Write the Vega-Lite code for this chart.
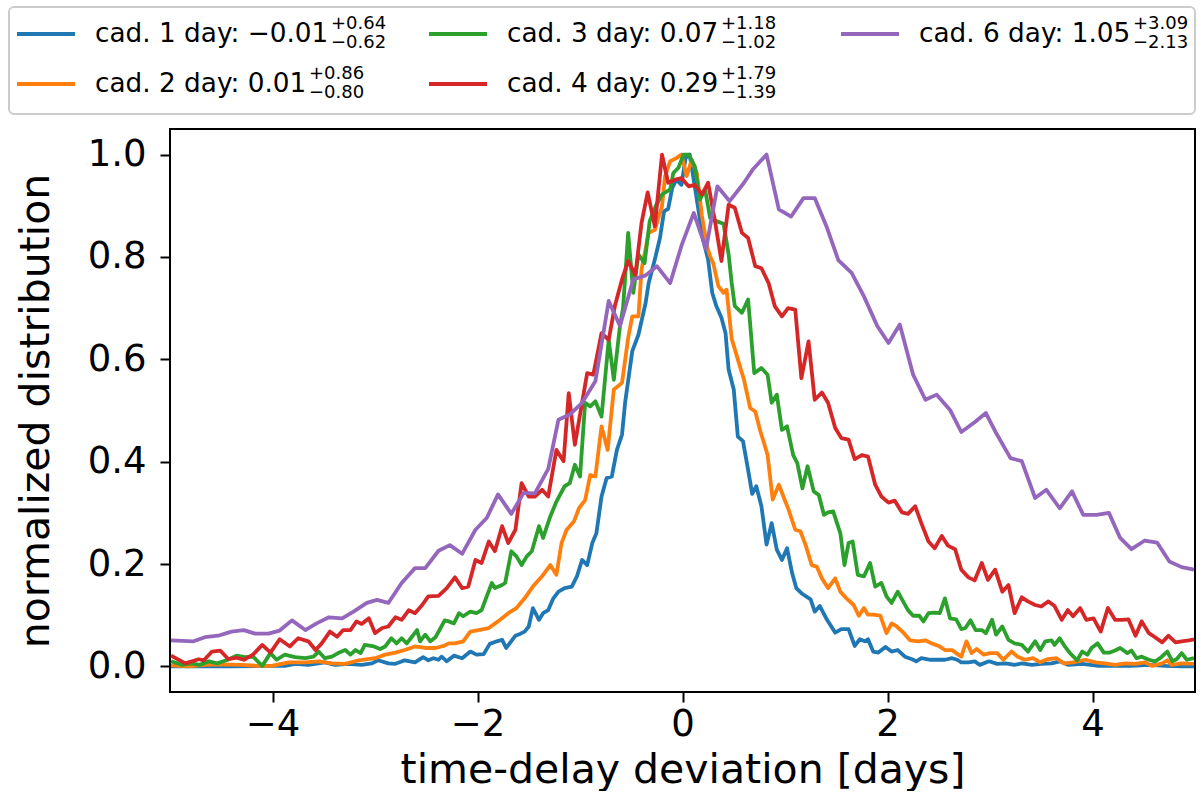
{
  "$schema": "https://vega.github.io/schema/vega-lite/v6.json",
  "padding": {"left": 7, "top": 6, "right": 6, "bottom": 0},
  "autosize": {"type": "pad"},
  "spacing": 13,
  "config": {
    "font": "DejaVu Sans",
    "axis": {"grid": false, "domain": false, "tickColor": "#000", "tickWidth": 2, "tickSize": 10, "labelColor": "#000", "titleColor": "#000", "titleFontWeight": "normal", "labelFont": "DejaVu Sans", "titleFont": "DejaVu Sans"}
  },
  "datasets": {
    "legend": [
      {"s": "cad. 1 day", "col": 0, "row": 1, "lab": "cad. 1 day: −0.01", "sup": "+0.64", "sub": "−0.62"},
      {"s": "cad. 2 day", "col": 0, "row": 2, "lab": "cad. 2 day: 0.01", "sup": "+0.86", "sub": "−0.80"},
      {"s": "cad. 3 day", "col": 1, "row": 1, "lab": "cad. 3 day: 0.07", "sup": "+1.18", "sub": "−1.02"},
      {"s": "cad. 4 day", "col": 1, "row": 2, "lab": "cad. 4 day: 0.29", "sup": "+1.79", "sub": "−1.39"},
      {"s": "cad. 6 day", "col": 2, "row": 1, "lab": "cad. 6 day: 1.05", "sup": "+3.09", "sub": "−2.13"}
    ],
    "curves": [
      {"s":"cad. 1 day","t":-4.99,"v":0.0},{"s":"cad. 1 day","t":-4.76,"v":0.0},{"s":"cad. 1 day","t":-4.43,"v":0.0},{"s":"cad. 1 day","t":-4.10,"v":0.001},{"s":"cad. 1 day","t":-3.88,"v":0.001},{"s":"cad. 1 day","t":-3.78,"v":0.005},{"s":"cad. 1 day","t":-3.65,"v":0.003},{"s":"cad. 1 day","t":-3.49,"v":0.008},{"s":"cad. 1 day","t":-3.39,"v":0.003},{"s":"cad. 1 day","t":-3.26,"v":0.005},{"s":"cad. 1 day","t":-3.13,"v":0.003},{"s":"cad. 1 day","t":-3.03,"v":0.006},{"s":"cad. 1 day","t":-2.97,"v":0.012},{"s":"cad. 1 day","t":-2.87,"v":0.006},{"s":"cad. 1 day","t":-2.80,"v":0.005},{"s":"cad. 1 day","t":-2.71,"v":0.012},{"s":"cad. 1 day","t":-2.61,"v":0.008},{"s":"cad. 1 day","t":-2.53,"v":0.018},{"s":"cad. 1 day","t":-2.48,"v":0.012},{"s":"cad. 1 day","t":-2.43,"v":0.016},{"s":"cad. 1 day","t":-2.38,"v":0.013},{"s":"cad. 1 day","t":-2.35,"v":0.019},{"s":"cad. 1 day","t":-2.30,"v":0.010},{"s":"cad. 1 day","t":-2.23,"v":0.021},{"s":"cad. 1 day","t":-2.15,"v":0.016},{"s":"cad. 1 day","t":-2.07,"v":0.029},{"s":"cad. 1 day","t":-2.01,"v":0.023},{"s":"cad. 1 day","t":-1.94,"v":0.024},{"s":"cad. 1 day","t":-1.88,"v":0.044},{"s":"cad. 1 day","t":-1.81,"v":0.049},{"s":"cad. 1 day","t":-1.76,"v":0.052},{"s":"cad. 1 day","t":-1.72,"v":0.036},{"s":"cad. 1 day","t":-1.63,"v":0.060},{"s":"cad. 1 day","t":-1.58,"v":0.064},{"s":"cad. 1 day","t":-1.54,"v":0.068},{"s":"cad. 1 day","t":-1.50,"v":0.078},{"s":"cad. 1 day","t":-1.46,"v":0.114},{"s":"cad. 1 day","t":-1.40,"v":0.091},{"s":"cad. 1 day","t":-1.36,"v":0.104},{"s":"cad. 1 day","t":-1.31,"v":0.110},{"s":"cad. 1 day","t":-1.26,"v":0.133},{"s":"cad. 1 day","t":-1.21,"v":0.146},{"s":"cad. 1 day","t":-1.15,"v":0.153},{"s":"cad. 1 day","t":-1.08,"v":0.156},{"s":"cad. 1 day","t":-1.03,"v":0.176},{"s":"cad. 1 day","t":-0.98,"v":0.208},{"s":"cad. 1 day","t":-0.93,"v":0.198},{"s":"cad. 1 day","t":-0.88,"v":0.241},{"s":"cad. 1 day","t":-0.84,"v":0.260},{"s":"cad. 1 day","t":-0.79,"v":0.332},{"s":"cad. 1 day","t":-0.74,"v":0.368},{"s":"cad. 1 day","t":-0.69,"v":0.371},{"s":"cad. 1 day","t":-0.64,"v":0.423},{"s":"cad. 1 day","t":-0.59,"v":0.453},{"s":"cad. 1 day","t":-0.56,"v":0.515},{"s":"cad. 1 day","t":-0.49,"v":0.616},{"s":"cad. 1 day","t":-0.43,"v":0.648},{"s":"cad. 1 day","t":-0.36,"v":0.710},{"s":"cad. 1 day","t":-0.33,"v":0.749},{"s":"cad. 1 day","t":-0.27,"v":0.795},{"s":"cad. 1 day","t":-0.22,"v":0.837},{"s":"cad. 1 day","t":-0.18,"v":0.889},{"s":"cad. 1 day","t":-0.14,"v":0.894},{"s":"cad. 1 day","t":-0.10,"v":0.935},{"s":"cad. 1 day","t":-0.06,"v":0.951},{"s":"cad. 1 day","t":-0.01,"v":0.941},{"s":"cad. 1 day","t":0.03,"v":0.993},{"s":"cad. 1 day","t":0.07,"v":1.0},{"s":"cad. 1 day","t":0.12,"v":0.938},{"s":"cad. 1 day","t":0.16,"v":0.886},{"s":"cad. 1 day","t":0.20,"v":0.834},{"s":"cad. 1 day","t":0.25,"v":0.795},{"s":"cad. 1 day","t":0.29,"v":0.730},{"s":"cad. 1 day","t":0.33,"v":0.704},{"s":"cad. 1 day","t":0.38,"v":0.681},{"s":"cad. 1 day","t":0.42,"v":0.651},{"s":"cad. 1 day","t":0.45,"v":0.580},{"s":"cad. 1 day","t":0.50,"v":0.541},{"s":"cad. 1 day","t":0.54,"v":0.449},{"s":"cad. 1 day","t":0.59,"v":0.440},{"s":"cad. 1 day","t":0.64,"v":0.384},{"s":"cad. 1 day","t":0.68,"v":0.337},{"s":"cad. 1 day","t":0.72,"v":0.352},{"s":"cad. 1 day","t":0.77,"v":0.313},{"s":"cad. 1 day","t":0.82,"v":0.238},{"s":"cad. 1 day","t":0.87,"v":0.280},{"s":"cad. 1 day","t":0.92,"v":0.228},{"s":"cad. 1 day","t":0.97,"v":0.208},{"s":"cad. 1 day","t":1.02,"v":0.231},{"s":"cad. 1 day","t":1.07,"v":0.182},{"s":"cad. 1 day","t":1.11,"v":0.153},{"s":"cad. 1 day","t":1.16,"v":0.143},{"s":"cad. 1 day","t":1.25,"v":0.131},{"s":"cad. 1 day","t":1.29,"v":0.107},{"s":"cad. 1 day","t":1.34,"v":0.118},{"s":"cad. 1 day","t":1.41,"v":0.091},{"s":"cad. 1 day","t":1.49,"v":0.066},{"s":"cad. 1 day","t":1.55,"v":0.073},{"s":"cad. 1 day","t":1.62,"v":0.073},{"s":"cad. 1 day","t":1.68,"v":0.040},{"s":"cad. 1 day","t":1.73,"v":0.053},{"s":"cad. 1 day","t":1.78,"v":0.049},{"s":"cad. 1 day","t":1.81,"v":0.053},{"s":"cad. 1 day","t":1.86,"v":0.029},{"s":"cad. 1 day","t":1.91,"v":0.027},{"s":"cad. 1 day","t":1.98,"v":0.038},{"s":"cad. 1 day","t":2.04,"v":0.029},{"s":"cad. 1 day","t":2.10,"v":0.032},{"s":"cad. 1 day","t":2.17,"v":0.019},{"s":"cad. 1 day","t":2.24,"v":0.014},{"s":"cad. 1 day","t":2.28,"v":0.010},{"s":"cad. 1 day","t":2.33,"v":0.016},{"s":"cad. 1 day","t":2.42,"v":0.013},{"s":"cad. 1 day","t":2.50,"v":0.013},{"s":"cad. 1 day","t":2.56,"v":0.013},{"s":"cad. 1 day","t":2.63,"v":0.016},{"s":"cad. 1 day","t":2.68,"v":0.013},{"s":"cad. 1 day","t":2.72,"v":0.008},{"s":"cad. 1 day","t":2.79,"v":0.008},{"s":"cad. 1 day","t":2.85,"v":0.010},{"s":"cad. 1 day","t":2.90,"v":0.003},{"s":"cad. 1 day","t":2.99,"v":0.010},{"s":"cad. 1 day","t":3.07,"v":0.005},{"s":"cad. 1 day","t":3.15,"v":0.006},{"s":"cad. 1 day","t":3.24,"v":0.003},{"s":"cad. 1 day","t":3.31,"v":0.006},{"s":"cad. 1 day","t":3.41,"v":0.003},{"s":"cad. 1 day","t":3.50,"v":0.005},{"s":"cad. 1 day","t":3.60,"v":0.006},{"s":"cad. 1 day","t":3.68,"v":0.010},{"s":"cad. 1 day","t":3.76,"v":0.003},{"s":"cad. 1 day","t":3.90,"v":0.005},{"s":"cad. 1 day","t":4.06,"v":0.001},{"s":"cad. 1 day","t":4.22,"v":0.001},{"s":"cad. 1 day","t":4.38,"v":0.001},{"s":"cad. 1 day","t":4.55,"v":0.003},{"s":"cad. 1 day","t":4.71,"v":0.001},{"s":"cad. 1 day","t":4.87,"v":0.0},{"s":"cad. 1 day","t":4.99,"v":0.0},
      {"s":"cad. 2 day","t":-4.99,"v":0.002},{"s":"cad. 2 day","t":-4.82,"v":0.0},{"s":"cad. 2 day","t":-4.66,"v":0.003},{"s":"cad. 2 day","t":-4.50,"v":0.004},{"s":"cad. 2 day","t":-4.30,"v":0.003},{"s":"cad. 2 day","t":-4.14,"v":0.001},{"s":"cad. 2 day","t":-4.01,"v":0.001},{"s":"cad. 2 day","t":-3.84,"v":0.008},{"s":"cad. 2 day","t":-3.68,"v":0.008},{"s":"cad. 2 day","t":-3.55,"v":0.010},{"s":"cad. 2 day","t":-3.42,"v":0.006},{"s":"cad. 2 day","t":-3.29,"v":0.005},{"s":"cad. 2 day","t":-3.16,"v":0.012},{"s":"cad. 2 day","t":-3.00,"v":0.016},{"s":"cad. 2 day","t":-2.90,"v":0.023},{"s":"cad. 2 day","t":-2.80,"v":0.027},{"s":"cad. 2 day","t":-2.71,"v":0.032},{"s":"cad. 2 day","t":-2.61,"v":0.039},{"s":"cad. 2 day","t":-2.51,"v":0.036},{"s":"cad. 2 day","t":-2.41,"v":0.036},{"s":"cad. 2 day","t":-2.33,"v":0.040},{"s":"cad. 2 day","t":-2.28,"v":0.045},{"s":"cad. 2 day","t":-2.22,"v":0.045},{"s":"cad. 2 day","t":-2.14,"v":0.049},{"s":"cad. 2 day","t":-2.07,"v":0.068},{"s":"cad. 2 day","t":-1.99,"v":0.071},{"s":"cad. 2 day","t":-1.89,"v":0.075},{"s":"cad. 2 day","t":-1.80,"v":0.088},{"s":"cad. 2 day","t":-1.70,"v":0.104},{"s":"cad. 2 day","t":-1.62,"v":0.114},{"s":"cad. 2 day","t":-1.54,"v":0.133},{"s":"cad. 2 day","t":-1.46,"v":0.156},{"s":"cad. 2 day","t":-1.37,"v":0.176},{"s":"cad. 2 day","t":-1.29,"v":0.198},{"s":"cad. 2 day","t":-1.23,"v":0.179},{"s":"cad. 2 day","t":-1.18,"v":0.241},{"s":"cad. 2 day","t":-1.13,"v":0.267},{"s":"cad. 2 day","t":-1.06,"v":0.283},{"s":"cad. 2 day","t":-1.01,"v":0.309},{"s":"cad. 2 day","t":-0.95,"v":0.325},{"s":"cad. 2 day","t":-0.90,"v":0.374},{"s":"cad. 2 day","t":-0.85,"v":0.371},{"s":"cad. 2 day","t":-0.79,"v":0.469},{"s":"cad. 2 day","t":-0.73,"v":0.423},{"s":"cad. 2 day","t":-0.67,"v":0.541},{"s":"cad. 2 day","t":-0.59,"v":0.554},{"s":"cad. 2 day","t":-0.53,"v":0.642},{"s":"cad. 2 day","t":-0.49,"v":0.684},{"s":"cad. 2 day","t":-0.43,"v":0.684},{"s":"cad. 2 day","t":-0.40,"v":0.775},{"s":"cad. 2 day","t":-0.33,"v":0.847},{"s":"cad. 2 day","t":-0.27,"v":0.853},{"s":"cad. 2 day","t":-0.20,"v":0.899},{"s":"cad. 2 day","t":-0.17,"v":0.958},{"s":"cad. 2 day","t":-0.12,"v":0.987},{"s":"cad. 2 day","t":-0.06,"v":0.993},{"s":"cad. 2 day","t":-0.01,"v":1.0},{"s":"cad. 2 day","t":0.04,"v":0.958},{"s":"cad. 2 day","t":0.09,"v":0.990},{"s":"cad. 2 day","t":0.14,"v":0.964},{"s":"cad. 2 day","t":0.19,"v":0.880},{"s":"cad. 2 day","t":0.24,"v":0.820},{"s":"cad. 2 day","t":0.27,"v":0.801},{"s":"cad. 2 day","t":0.30,"v":0.788},{"s":"cad. 2 day","t":0.35,"v":0.743},{"s":"cad. 2 day","t":0.40,"v":0.730},{"s":"cad. 2 day","t":0.43,"v":0.736},{"s":"cad. 2 day","t":0.48,"v":0.640},{"s":"cad. 2 day","t":0.55,"v":0.593},{"s":"cad. 2 day","t":0.60,"v":0.560},{"s":"cad. 2 day","t":0.66,"v":0.505},{"s":"cad. 2 day","t":0.71,"v":0.498},{"s":"cad. 2 day","t":0.76,"v":0.459},{"s":"cad. 2 day","t":0.79,"v":0.440},{"s":"cad. 2 day","t":0.83,"v":0.413},{"s":"cad. 2 day","t":0.88,"v":0.326},{"s":"cad. 2 day","t":0.94,"v":0.355},{"s":"cad. 2 day","t":0.99,"v":0.329},{"s":"cad. 2 day","t":1.03,"v":0.309},{"s":"cad. 2 day","t":1.10,"v":0.267},{"s":"cad. 2 day","t":1.15,"v":0.264},{"s":"cad. 2 day","t":1.20,"v":0.238},{"s":"cad. 2 day","t":1.26,"v":0.198},{"s":"cad. 2 day","t":1.31,"v":0.195},{"s":"cad. 2 day","t":1.36,"v":0.172},{"s":"cad. 2 day","t":1.42,"v":0.153},{"s":"cad. 2 day","t":1.49,"v":0.172},{"s":"cad. 2 day","t":1.54,"v":0.146},{"s":"cad. 2 day","t":1.60,"v":0.133},{"s":"cad. 2 day","t":1.67,"v":0.120},{"s":"cad. 2 day","t":1.72,"v":0.099},{"s":"cad. 2 day","t":1.77,"v":0.114},{"s":"cad. 2 day","t":1.81,"v":0.101},{"s":"cad. 2 day","t":1.86,"v":0.101},{"s":"cad. 2 day","t":1.93,"v":0.099},{"s":"cad. 2 day","t":1.99,"v":0.065},{"s":"cad. 2 day","t":2.04,"v":0.084},{"s":"cad. 2 day","t":2.09,"v":0.078},{"s":"cad. 2 day","t":2.16,"v":0.065},{"s":"cad. 2 day","t":2.22,"v":0.051},{"s":"cad. 2 day","t":2.30,"v":0.049},{"s":"cad. 2 day","t":2.37,"v":0.051},{"s":"cad. 2 day","t":2.43,"v":0.045},{"s":"cad. 2 day","t":2.50,"v":0.040},{"s":"cad. 2 day","t":2.56,"v":0.032},{"s":"cad. 2 day","t":2.63,"v":0.032},{"s":"cad. 2 day","t":2.69,"v":0.023},{"s":"cad. 2 day","t":2.72,"v":0.019},{"s":"cad. 2 day","t":2.77,"v":0.049},{"s":"cad. 2 day","t":2.82,"v":0.026},{"s":"cad. 2 day","t":2.87,"v":0.034},{"s":"cad. 2 day","t":2.94,"v":0.023},{"s":"cad. 2 day","t":3.00,"v":0.026},{"s":"cad. 2 day","t":3.07,"v":0.026},{"s":"cad. 2 day","t":3.13,"v":0.013},{"s":"cad. 2 day","t":3.21,"v":0.029},{"s":"cad. 2 day","t":3.27,"v":0.019},{"s":"cad. 2 day","t":3.34,"v":0.013},{"s":"cad. 2 day","t":3.42,"v":0.016},{"s":"cad. 2 day","t":3.49,"v":0.008},{"s":"cad. 2 day","t":3.56,"v":0.014},{"s":"cad. 2 day","t":3.65,"v":0.016},{"s":"cad. 2 day","t":3.72,"v":0.006},{"s":"cad. 2 day","t":3.81,"v":0.008},{"s":"cad. 2 day","t":3.93,"v":0.013},{"s":"cad. 2 day","t":4.03,"v":0.008},{"s":"cad. 2 day","t":4.12,"v":0.006},{"s":"cad. 2 day","t":4.22,"v":0.003},{"s":"cad. 2 day","t":4.32,"v":0.006},{"s":"cad. 2 day","t":4.42,"v":0.005},{"s":"cad. 2 day","t":4.51,"v":0.008},{"s":"cad. 2 day","t":4.58,"v":0.001},{"s":"cad. 2 day","t":4.68,"v":0.006},{"s":"cad. 2 day","t":4.73,"v":0.012},{"s":"cad. 2 day","t":4.77,"v":0.003},{"s":"cad. 2 day","t":4.87,"v":0.006},{"s":"cad. 2 day","t":4.99,"v":0.005},
      {"s":"cad. 3 day","t":-4.99,"v":0.010},{"s":"cad. 3 day","t":-4.88,"v":0.003},{"s":"cad. 3 day","t":-4.79,"v":0.006},{"s":"cad. 3 day","t":-4.71,"v":0.003},{"s":"cad. 3 day","t":-4.62,"v":0.010},{"s":"cad. 3 day","t":-4.54,"v":0.006},{"s":"cad. 3 day","t":-4.45,"v":0.012},{"s":"cad. 3 day","t":-4.35,"v":0.021},{"s":"cad. 3 day","t":-4.27,"v":0.018},{"s":"cad. 3 day","t":-4.19,"v":0.019},{"s":"cad. 3 day","t":-4.10,"v":0.001},{"s":"cad. 3 day","t":-4.02,"v":0.026},{"s":"cad. 3 day","t":-3.96,"v":0.013},{"s":"cad. 3 day","t":-3.88,"v":0.023},{"s":"cad. 3 day","t":-3.78,"v":0.018},{"s":"cad. 3 day","t":-3.68,"v":0.016},{"s":"cad. 3 day","t":-3.60,"v":0.019},{"s":"cad. 3 day","t":-3.55,"v":0.029},{"s":"cad. 3 day","t":-3.49,"v":0.016},{"s":"cad. 3 day","t":-3.42,"v":0.019},{"s":"cad. 3 day","t":-3.36,"v":0.026},{"s":"cad. 3 day","t":-3.29,"v":0.032},{"s":"cad. 3 day","t":-3.24,"v":0.023},{"s":"cad. 3 day","t":-3.19,"v":0.032},{"s":"cad. 3 day","t":-3.14,"v":0.026},{"s":"cad. 3 day","t":-3.10,"v":0.042},{"s":"cad. 3 day","t":-3.01,"v":0.039},{"s":"cad. 3 day","t":-2.95,"v":0.034},{"s":"cad. 3 day","t":-2.90,"v":0.039},{"s":"cad. 3 day","t":-2.84,"v":0.055},{"s":"cad. 3 day","t":-2.79,"v":0.045},{"s":"cad. 3 day","t":-2.74,"v":0.055},{"s":"cad. 3 day","t":-2.69,"v":0.045},{"s":"cad. 3 day","t":-2.64,"v":0.058},{"s":"cad. 3 day","t":-2.59,"v":0.071},{"s":"cad. 3 day","t":-2.56,"v":0.049},{"s":"cad. 3 day","t":-2.51,"v":0.062},{"s":"cad. 3 day","t":-2.46,"v":0.049},{"s":"cad. 3 day","t":-2.41,"v":0.057},{"s":"cad. 3 day","t":-2.36,"v":0.075},{"s":"cad. 3 day","t":-2.32,"v":0.090},{"s":"cad. 3 day","t":-2.28,"v":0.088},{"s":"cad. 3 day","t":-2.23,"v":0.084},{"s":"cad. 3 day","t":-2.18,"v":0.104},{"s":"cad. 3 day","t":-2.14,"v":0.098},{"s":"cad. 3 day","t":-2.07,"v":0.107},{"s":"cad. 3 day","t":-2.01,"v":0.104},{"s":"cad. 3 day","t":-1.96,"v":0.110},{"s":"cad. 3 day","t":-1.91,"v":0.137},{"s":"cad. 3 day","t":-1.86,"v":0.163},{"s":"cad. 3 day","t":-1.83,"v":0.153},{"s":"cad. 3 day","t":-1.76,"v":0.159},{"s":"cad. 3 day","t":-1.73,"v":0.163},{"s":"cad. 3 day","t":-1.67,"v":0.225},{"s":"cad. 3 day","t":-1.62,"v":0.215},{"s":"cad. 3 day","t":-1.57,"v":0.198},{"s":"cad. 3 day","t":-1.52,"v":0.215},{"s":"cad. 3 day","t":-1.47,"v":0.225},{"s":"cad. 3 day","t":-1.40,"v":0.274},{"s":"cad. 3 day","t":-1.36,"v":0.251},{"s":"cad. 3 day","t":-1.29,"v":0.293},{"s":"cad. 3 day","t":-1.23,"v":0.322},{"s":"cad. 3 day","t":-1.15,"v":0.352},{"s":"cad. 3 day","t":-1.10,"v":0.358},{"s":"cad. 3 day","t":-1.05,"v":0.394},{"s":"cad. 3 day","t":-1.00,"v":0.371},{"s":"cad. 3 day","t":-0.95,"v":0.515},{"s":"cad. 3 day","t":-0.90,"v":0.508},{"s":"cad. 3 day","t":-0.85,"v":0.518},{"s":"cad. 3 day","t":-0.79,"v":0.488},{"s":"cad. 3 day","t":-0.72,"v":0.638},{"s":"cad. 3 day","t":-0.67,"v":0.560},{"s":"cad. 3 day","t":-0.61,"v":0.665},{"s":"cad. 3 day","t":-0.58,"v":0.700},{"s":"cad. 3 day","t":-0.53,"v":0.847},{"s":"cad. 3 day","t":-0.48,"v":0.730},{"s":"cad. 3 day","t":-0.43,"v":0.805},{"s":"cad. 3 day","t":-0.37,"v":0.788},{"s":"cad. 3 day","t":-0.32,"v":0.870},{"s":"cad. 3 day","t":-0.26,"v":0.900},{"s":"cad. 3 day","t":-0.20,"v":0.922},{"s":"cad. 3 day","t":-0.12,"v":0.932},{"s":"cad. 3 day","t":-0.09,"v":0.964},{"s":"cad. 3 day","t":-0.04,"v":0.974},{"s":"cad. 3 day","t":0.01,"v":1.0},{"s":"cad. 3 day","t":0.06,"v":1.0},{"s":"cad. 3 day","t":0.12,"v":0.977},{"s":"cad. 3 day","t":0.17,"v":0.912},{"s":"cad. 3 day","t":0.22,"v":0.932},{"s":"cad. 3 day","t":0.27,"v":0.876},{"s":"cad. 3 day","t":0.33,"v":0.870},{"s":"cad. 3 day","t":0.40,"v":0.865},{"s":"cad. 3 day","t":0.45,"v":0.805},{"s":"cad. 3 day","t":0.48,"v":0.749},{"s":"cad. 3 day","t":0.51,"v":0.704},{"s":"cad. 3 day","t":0.58,"v":0.691},{"s":"cad. 3 day","t":0.64,"v":0.717},{"s":"cad. 3 day","t":0.70,"v":0.573},{"s":"cad. 3 day","t":0.77,"v":0.583},{"s":"cad. 3 day","t":0.83,"v":0.570},{"s":"cad. 3 day","t":0.87,"v":0.515},{"s":"cad. 3 day","t":0.92,"v":0.531},{"s":"cad. 3 day","t":0.97,"v":0.462},{"s":"cad. 3 day","t":1.02,"v":0.469},{"s":"cad. 3 day","t":1.08,"v":0.413},{"s":"cad. 3 day","t":1.12,"v":0.397},{"s":"cad. 3 day","t":1.17,"v":0.348},{"s":"cad. 3 day","t":1.22,"v":0.391},{"s":"cad. 3 day","t":1.28,"v":0.342},{"s":"cad. 3 day","t":1.33,"v":0.335},{"s":"cad. 3 day","t":1.38,"v":0.296},{"s":"cad. 3 day","t":1.42,"v":0.301},{"s":"cad. 3 day","t":1.47,"v":0.303},{"s":"cad. 3 day","t":1.54,"v":0.260},{"s":"cad. 3 day","t":1.58,"v":0.198},{"s":"cad. 3 day","t":1.62,"v":0.241},{"s":"cad. 3 day","t":1.66,"v":0.244},{"s":"cad. 3 day","t":1.71,"v":0.179},{"s":"cad. 3 day","t":1.77,"v":0.176},{"s":"cad. 3 day","t":1.83,"v":0.202},{"s":"cad. 3 day","t":1.88,"v":0.156},{"s":"cad. 3 day","t":1.94,"v":0.163},{"s":"cad. 3 day","t":1.99,"v":0.137},{"s":"cad. 3 day","t":2.04,"v":0.124},{"s":"cad. 3 day","t":2.10,"v":0.146},{"s":"cad. 3 day","t":2.16,"v":0.124},{"s":"cad. 3 day","t":2.20,"v":0.110},{"s":"cad. 3 day","t":2.25,"v":0.099},{"s":"cad. 3 day","t":2.31,"v":0.099},{"s":"cad. 3 day","t":2.35,"v":0.088},{"s":"cad. 3 day","t":2.40,"v":0.104},{"s":"cad. 3 day","t":2.46,"v":0.105},{"s":"cad. 3 day","t":2.51,"v":0.104},{"s":"cad. 3 day","t":2.56,"v":0.133},{"s":"cad. 3 day","t":2.61,"v":0.094},{"s":"cad. 3 day","t":2.67,"v":0.092},{"s":"cad. 3 day","t":2.72,"v":0.073},{"s":"cad. 3 day","t":2.76,"v":0.075},{"s":"cad. 3 day","t":2.81,"v":0.090},{"s":"cad. 3 day","t":2.86,"v":0.071},{"s":"cad. 3 day","t":2.92,"v":0.071},{"s":"cad. 3 day","t":2.96,"v":0.065},{"s":"cad. 3 day","t":3.02,"v":0.091},{"s":"cad. 3 day","t":3.06,"v":0.062},{"s":"cad. 3 day","t":3.12,"v":0.078},{"s":"cad. 3 day","t":3.18,"v":0.052},{"s":"cad. 3 day","t":3.24,"v":0.045},{"s":"cad. 3 day","t":3.31,"v":0.042},{"s":"cad. 3 day","t":3.37,"v":0.029},{"s":"cad. 3 day","t":3.44,"v":0.049},{"s":"cad. 3 day","t":3.49,"v":0.032},{"s":"cad. 3 day","t":3.54,"v":0.049},{"s":"cad. 3 day","t":3.60,"v":0.051},{"s":"cad. 3 day","t":3.63,"v":0.042},{"s":"cad. 3 day","t":3.68,"v":0.055},{"s":"cad. 3 day","t":3.73,"v":0.039},{"s":"cad. 3 day","t":3.78,"v":0.026},{"s":"cad. 3 day","t":3.85,"v":0.012},{"s":"cad. 3 day","t":3.90,"v":0.029},{"s":"cad. 3 day","t":3.95,"v":0.023},{"s":"cad. 3 day","t":3.99,"v":0.036},{"s":"cad. 3 day","t":4.05,"v":0.045},{"s":"cad. 3 day","t":4.11,"v":0.027},{"s":"cad. 3 day","t":4.17,"v":0.027},{"s":"cad. 3 day","t":4.22,"v":0.031},{"s":"cad. 3 day","t":4.27,"v":0.036},{"s":"cad. 3 day","t":4.34,"v":0.026},{"s":"cad. 3 day","t":4.38,"v":0.031},{"s":"cad. 3 day","t":4.43,"v":0.016},{"s":"cad. 3 day","t":4.48,"v":0.019},{"s":"cad. 3 day","t":4.55,"v":0.013},{"s":"cad. 3 day","t":4.61,"v":0.010},{"s":"cad. 3 day","t":4.66,"v":0.016},{"s":"cad. 3 day","t":4.73,"v":0.029},{"s":"cad. 3 day","t":4.78,"v":0.010},{"s":"cad. 3 day","t":4.82,"v":0.014},{"s":"cad. 3 day","t":4.87,"v":0.026},{"s":"cad. 3 day","t":4.92,"v":0.013},{"s":"cad. 3 day","t":4.99,"v":0.016},
      {"s":"cad. 4 day","t":-4.99,"v":0.021},{"s":"cad. 4 day","t":-4.85,"v":0.006},{"s":"cad. 4 day","t":-4.72,"v":0.014},{"s":"cad. 4 day","t":-4.67,"v":0.012},{"s":"cad. 4 day","t":-4.59,"v":0.029},{"s":"cad. 4 day","t":-4.51,"v":0.031},{"s":"cad. 4 day","t":-4.43,"v":0.014},{"s":"cad. 4 day","t":-4.35,"v":0.017},{"s":"cad. 4 day","t":-4.28,"v":0.013},{"s":"cad. 4 day","t":-4.19,"v":0.023},{"s":"cad. 4 day","t":-4.10,"v":0.042},{"s":"cad. 4 day","t":-4.02,"v":0.027},{"s":"cad. 4 day","t":-3.93,"v":0.053},{"s":"cad. 4 day","t":-3.83,"v":0.039},{"s":"cad. 4 day","t":-3.75,"v":0.055},{"s":"cad. 4 day","t":-3.65,"v":0.049},{"s":"cad. 4 day","t":-3.58,"v":0.032},{"s":"cad. 4 day","t":-3.52,"v":0.045},{"s":"cad. 4 day","t":-3.44,"v":0.068},{"s":"cad. 4 day","t":-3.37,"v":0.058},{"s":"cad. 4 day","t":-3.31,"v":0.071},{"s":"cad. 4 day","t":-3.24,"v":0.071},{"s":"cad. 4 day","t":-3.18,"v":0.088},{"s":"cad. 4 day","t":-3.13,"v":0.083},{"s":"cad. 4 day","t":-3.06,"v":0.094},{"s":"cad. 4 day","t":-3.00,"v":0.065},{"s":"cad. 4 day","t":-2.93,"v":0.075},{"s":"cad. 4 day","t":-2.87,"v":0.078},{"s":"cad. 4 day","t":-2.80,"v":0.096},{"s":"cad. 4 day","t":-2.74,"v":0.091},{"s":"cad. 4 day","t":-2.67,"v":0.110},{"s":"cad. 4 day","t":-2.61,"v":0.104},{"s":"cad. 4 day","t":-2.54,"v":0.120},{"s":"cad. 4 day","t":-2.48,"v":0.137},{"s":"cad. 4 day","t":-2.38,"v":0.138},{"s":"cad. 4 day","t":-2.30,"v":0.153},{"s":"cad. 4 day","t":-2.22,"v":0.174},{"s":"cad. 4 day","t":-2.15,"v":0.153},{"s":"cad. 4 day","t":-2.09,"v":0.156},{"s":"cad. 4 day","t":-2.02,"v":0.208},{"s":"cad. 4 day","t":-1.96,"v":0.202},{"s":"cad. 4 day","t":-1.89,"v":0.244},{"s":"cad. 4 day","t":-1.83,"v":0.225},{"s":"cad. 4 day","t":-1.76,"v":0.274},{"s":"cad. 4 day","t":-1.70,"v":0.241},{"s":"cad. 4 day","t":-1.63,"v":0.267},{"s":"cad. 4 day","t":-1.57,"v":0.358},{"s":"cad. 4 day","t":-1.50,"v":0.332},{"s":"cad. 4 day","t":-1.44,"v":0.332},{"s":"cad. 4 day","t":-1.37,"v":0.345},{"s":"cad. 4 day","t":-1.31,"v":0.332},{"s":"cad. 4 day","t":-1.23,"v":0.423},{"s":"cad. 4 day","t":-1.16,"v":0.401},{"s":"cad. 4 day","t":-1.11,"v":0.534},{"s":"cad. 4 day","t":-1.05,"v":0.433},{"s":"cad. 4 day","t":-0.98,"v":0.515},{"s":"cad. 4 day","t":-0.93,"v":0.573},{"s":"cad. 4 day","t":-0.87,"v":0.570},{"s":"cad. 4 day","t":-0.79,"v":0.651},{"s":"cad. 4 day","t":-0.72,"v":0.638},{"s":"cad. 4 day","t":-0.66,"v":0.704},{"s":"cad. 4 day","t":-0.59,"v":0.756},{"s":"cad. 4 day","t":-0.53,"v":0.792},{"s":"cad. 4 day","t":-0.46,"v":0.765},{"s":"cad. 4 day","t":-0.40,"v":0.866},{"s":"cad. 4 day","t":-0.34,"v":0.926},{"s":"cad. 4 day","t":-0.27,"v":0.860},{"s":"cad. 4 day","t":-0.20,"v":1.0},{"s":"cad. 4 day","t":-0.14,"v":0.945},{"s":"cad. 4 day","t":-0.07,"v":0.951},{"s":"cad. 4 day","t":-0.01,"v":0.954},{"s":"cad. 4 day","t":0.06,"v":0.938},{"s":"cad. 4 day","t":0.12,"v":0.941},{"s":"cad. 4 day","t":0.19,"v":0.922},{"s":"cad. 4 day","t":0.25,"v":0.945},{"s":"cad. 4 day","t":0.32,"v":0.866},{"s":"cad. 4 day","t":0.38,"v":0.792},{"s":"cad. 4 day","t":0.45,"v":0.902},{"s":"cad. 4 day","t":0.51,"v":0.896},{"s":"cad. 4 day","t":0.58,"v":0.847},{"s":"cad. 4 day","t":0.64,"v":0.837},{"s":"cad. 4 day","t":0.71,"v":0.782},{"s":"cad. 4 day","t":0.77,"v":0.778},{"s":"cad. 4 day","t":0.84,"v":0.749},{"s":"cad. 4 day","t":0.90,"v":0.704},{"s":"cad. 4 day","t":0.97,"v":0.684},{"s":"cad. 4 day","t":1.03,"v":0.700},{"s":"cad. 4 day","t":1.10,"v":0.697},{"s":"cad. 4 day","t":1.16,"v":0.563},{"s":"cad. 4 day","t":1.23,"v":0.635},{"s":"cad. 4 day","t":1.29,"v":0.521},{"s":"cad. 4 day","t":1.36,"v":0.535},{"s":"cad. 4 day","t":1.42,"v":0.515},{"s":"cad. 4 day","t":1.49,"v":0.466},{"s":"cad. 4 day","t":1.55,"v":0.446},{"s":"cad. 4 day","t":1.62,"v":0.443},{"s":"cad. 4 day","t":1.68,"v":0.405},{"s":"cad. 4 day","t":1.75,"v":0.413},{"s":"cad. 4 day","t":1.81,"v":0.410},{"s":"cad. 4 day","t":1.88,"v":0.355},{"s":"cad. 4 day","t":1.94,"v":0.332},{"s":"cad. 4 day","t":2.01,"v":0.320},{"s":"cad. 4 day","t":2.07,"v":0.324},{"s":"cad. 4 day","t":2.14,"v":0.301},{"s":"cad. 4 day","t":2.20,"v":0.298},{"s":"cad. 4 day","t":2.27,"v":0.313},{"s":"cad. 4 day","t":2.33,"v":0.280},{"s":"cad. 4 day","t":2.40,"v":0.244},{"s":"cad. 4 day","t":2.46,"v":0.231},{"s":"cad. 4 day","t":2.53,"v":0.255},{"s":"cad. 4 day","t":2.59,"v":0.236},{"s":"cad. 4 day","t":2.66,"v":0.229},{"s":"cad. 4 day","t":2.72,"v":0.189},{"s":"cad. 4 day","t":2.79,"v":0.174},{"s":"cad. 4 day","t":2.85,"v":0.168},{"s":"cad. 4 day","t":2.92,"v":0.202},{"s":"cad. 4 day","t":2.98,"v":0.169},{"s":"cad. 4 day","t":3.05,"v":0.189},{"s":"cad. 4 day","t":3.12,"v":0.146},{"s":"cad. 4 day","t":3.18,"v":0.159},{"s":"cad. 4 day","t":3.24,"v":0.104},{"s":"cad. 4 day","t":3.31,"v":0.135},{"s":"cad. 4 day","t":3.37,"v":0.127},{"s":"cad. 4 day","t":3.44,"v":0.120},{"s":"cad. 4 day","t":3.50,"v":0.117},{"s":"cad. 4 day","t":3.57,"v":0.127},{"s":"cad. 4 day","t":3.63,"v":0.118},{"s":"cad. 4 day","t":3.70,"v":0.091},{"s":"cad. 4 day","t":3.76,"v":0.110},{"s":"cad. 4 day","t":3.81,"v":0.098},{"s":"cad. 4 day","t":3.88,"v":0.114},{"s":"cad. 4 day","t":3.94,"v":0.091},{"s":"cad. 4 day","t":4.01,"v":0.094},{"s":"cad. 4 day","t":4.08,"v":0.068},{"s":"cad. 4 day","t":4.15,"v":0.114},{"s":"cad. 4 day","t":4.22,"v":0.091},{"s":"cad. 4 day","t":4.29,"v":0.091},{"s":"cad. 4 day","t":4.35,"v":0.092},{"s":"cad. 4 day","t":4.42,"v":0.060},{"s":"cad. 4 day","t":4.48,"v":0.088},{"s":"cad. 4 day","t":4.55,"v":0.065},{"s":"cad. 4 day","t":4.61,"v":0.057},{"s":"cad. 4 day","t":4.68,"v":0.047},{"s":"cad. 4 day","t":4.74,"v":0.060},{"s":"cad. 4 day","t":4.81,"v":0.047},{"s":"cad. 4 day","t":4.87,"v":0.049},{"s":"cad. 4 day","t":4.94,"v":0.051},{"s":"cad. 4 day","t":4.99,"v":0.053},
      {"s":"cad. 6 day","t":-4.99,"v":0.051},{"s":"cad. 6 day","t":-4.77,"v":0.049},{"s":"cad. 6 day","t":-4.66,"v":0.057},{"s":"cad. 6 day","t":-4.53,"v":0.060},{"s":"cad. 6 day","t":-4.40,"v":0.068},{"s":"cad. 6 day","t":-4.28,"v":0.071},{"s":"cad. 6 day","t":-4.17,"v":0.064},{"s":"cad. 6 day","t":-4.04,"v":0.064},{"s":"cad. 6 day","t":-3.93,"v":0.070},{"s":"cad. 6 day","t":-3.81,"v":0.090},{"s":"cad. 6 day","t":-3.68,"v":0.071},{"s":"cad. 6 day","t":-3.57,"v":0.084},{"s":"cad. 6 day","t":-3.45,"v":0.096},{"s":"cad. 6 day","t":-3.32,"v":0.094},{"s":"cad. 6 day","t":-3.21,"v":0.107},{"s":"cad. 6 day","t":-3.08,"v":0.124},{"s":"cad. 6 day","t":-2.98,"v":0.130},{"s":"cad. 6 day","t":-2.87,"v":0.124},{"s":"cad. 6 day","t":-2.74,"v":0.163},{"s":"cad. 6 day","t":-2.61,"v":0.192},{"s":"cad. 6 day","t":-2.51,"v":0.192},{"s":"cad. 6 day","t":-2.38,"v":0.226},{"s":"cad. 6 day","t":-2.27,"v":0.237},{"s":"cad. 6 day","t":-2.15,"v":0.220},{"s":"cad. 6 day","t":-2.02,"v":0.267},{"s":"cad. 6 day","t":-1.91,"v":0.290},{"s":"cad. 6 day","t":-1.80,"v":0.336},{"s":"cad. 6 day","t":-1.67,"v":0.298},{"s":"cad. 6 day","t":-1.55,"v":0.339},{"s":"cad. 6 day","t":-1.44,"v":0.338},{"s":"cad. 6 day","t":-1.31,"v":0.386},{"s":"cad. 6 day","t":-1.21,"v":0.482},{"s":"cad. 6 day","t":-1.10,"v":0.492},{"s":"cad. 6 day","t":-0.98,"v":0.515},{"s":"cad. 6 day","t":-0.85,"v":0.557},{"s":"cad. 6 day","t":-0.72,"v":0.714},{"s":"cad. 6 day","t":-0.61,"v":0.665},{"s":"cad. 6 day","t":-0.48,"v":0.756},{"s":"cad. 6 day","t":-0.36,"v":0.764},{"s":"cad. 6 day","t":-0.25,"v":0.782},{"s":"cad. 6 day","t":-0.12,"v":0.749},{"s":"cad. 6 day","t":-0.01,"v":0.822},{"s":"cad. 6 day","t":0.11,"v":0.886},{"s":"cad. 6 day","t":0.23,"v":0.816},{"s":"cad. 6 day","t":0.34,"v":0.938},{"s":"cad. 6 day","t":0.46,"v":0.909},{"s":"cad. 6 day","t":0.60,"v":0.945},{"s":"cad. 6 day","t":0.69,"v":0.972},{"s":"cad. 6 day","t":0.82,"v":1.0},{"s":"cad. 6 day","t":0.94,"v":0.893},{"s":"cad. 6 day","t":1.06,"v":0.879},{"s":"cad. 6 day","t":1.18,"v":0.915},{"s":"cad. 6 day","t":1.29,"v":0.915},{"s":"cad. 6 day","t":1.41,"v":0.857},{"s":"cad. 6 day","t":1.52,"v":0.794},{"s":"cad. 6 day","t":1.65,"v":0.769},{"s":"cad. 6 day","t":1.77,"v":0.723},{"s":"cad. 6 day","t":1.90,"v":0.665},{"s":"cad. 6 day","t":2.01,"v":0.632},{"s":"cad. 6 day","t":2.12,"v":0.668},{"s":"cad. 6 day","t":2.25,"v":0.570},{"s":"cad. 6 day","t":2.37,"v":0.521},{"s":"cad. 6 day","t":2.48,"v":0.531},{"s":"cad. 6 day","t":2.61,"v":0.501},{"s":"cad. 6 day","t":2.72,"v":0.458},{"s":"cad. 6 day","t":2.85,"v":0.477},{"s":"cad. 6 day","t":2.96,"v":0.495},{"s":"cad. 6 day","t":3.06,"v":0.456},{"s":"cad. 6 day","t":3.20,"v":0.407},{"s":"cad. 6 day","t":3.31,"v":0.401},{"s":"cad. 6 day","t":3.44,"v":0.329},{"s":"cad. 6 day","t":3.55,"v":0.345},{"s":"cad. 6 day","t":3.68,"v":0.309},{"s":"cad. 6 day","t":3.80,"v":0.342},{"s":"cad. 6 day","t":3.91,"v":0.296},{"s":"cad. 6 day","t":4.04,"v":0.296},{"s":"cad. 6 day","t":4.16,"v":0.300},{"s":"cad. 6 day","t":4.27,"v":0.251},{"s":"cad. 6 day","t":4.38,"v":0.229},{"s":"cad. 6 day","t":4.51,"v":0.246},{"s":"cad. 6 day","t":4.63,"v":0.242},{"s":"cad. 6 day","t":4.75,"v":0.205},{"s":"cad. 6 day","t":4.87,"v":0.194},{"s":"cad. 6 day","t":4.99,"v":0.189}
    ]
  },
  "vconcat": [
    {
      "width": 1025,
      "height": 107,
      "view": {"stroke": null},
      "data": {"name": "legend"},
      "layer": [
        {
          "transform": [{"aggregate": [{"op": "min", "field": "col", "as": "c0"}, {"op": "max", "field": "col", "as": "c1"}, {"op": "min", "field": "row", "as": "r0"}, {"op": "max", "field": "row", "as": "r1"}]}],
          "mark": {"type": "rect", "fill": "white", "stroke": "#cccccc", "strokeWidth": 2, "cornerRadius": 5, "xOffset": -8, "x2Offset": 354, "yOffset": -27, "y2Offset": 30},
          "encoding": {
            "x": {"field": "c0", "type": "quantitative", "scale": {"domain": [0.37136, 2.8592], "nice": false, "zero": false}, "axis": null},
            "x2": {"field": "c1"},
            "y": {"field": "r0", "type": "quantitative", "scale": {"domain": [0.46, 2.6], "nice": false, "zero": false, "reverse": true}, "axis": null},
            "y2": {"field": "r1"}
          }
        },
        {
          "mark": {"type": "rule", "strokeWidth": 3.8, "x2Offset": 58},
          "encoding": {
            "x": {"field": "col", "type": "quantitative"},
            "x2": {"field": "col"},
            "y": {"field": "row", "type": "quantitative"},
            "color": {"field": "s", "type": "nominal", "legend": null, "scale": {"domain": ["cad. 1 day", "cad. 2 day", "cad. 3 day", "cad. 4 day", "cad. 6 day"], "range": ["#1f77b4", "#ff7f0e", "#2ca02c", "#d62728", "#9467bd"]}}
          }
        },
        {
          "mark": {"type": "text", "align": "left", "baseline": "middle", "dx": 78, "fontSize": 26.3, "color": "#000"},
          "encoding": {"x": {"field": "col", "type": "quantitative"}, "y": {"field": "row", "type": "quantitative"}, "text": {"field": "lab"}}
        },
        {
          "transform": [{"filter": "datum.s !== 'cad. 1 day'"}],
          "mark": {"type": "text", "align": "left", "baseline": "middle", "dx": 292, "dy": -10, "fontSize": 18, "color": "#000"},
          "encoding": {"x": {"field": "col", "type": "quantitative"}, "y": {"field": "row", "type": "quantitative"}, "text": {"field": "sup"}}
        },
        {
          "transform": [{"filter": "datum.s !== 'cad. 1 day'"}],
          "mark": {"type": "text", "align": "left", "baseline": "middle", "dx": 292, "dy": 9, "fontSize": 18, "color": "#000"},
          "encoding": {"x": {"field": "col", "type": "quantitative"}, "y": {"field": "row", "type": "quantitative"}, "text": {"field": "sub"}}
        },
        {
          "transform": [{"filter": "datum.s === 'cad. 1 day'"}],
          "mark": {"type": "text", "align": "left", "baseline": "middle", "dx": 314, "dy": -10, "fontSize": 18, "color": "#000"},
          "encoding": {"x": {"field": "col", "type": "quantitative"}, "y": {"field": "row", "type": "quantitative"}, "text": {"field": "sup"}}
        },
        {
          "transform": [{"filter": "datum.s === 'cad. 1 day'"}],
          "mark": {"type": "text", "align": "left", "baseline": "middle", "dx": 314, "dy": 9, "fontSize": 18, "color": "#000"},
          "encoding": {"x": {"field": "col", "type": "quantitative"}, "y": {"field": "row", "type": "quantitative"}, "text": {"field": "sub"}}
        }
      ]
    },
    {
      "width": 1025,
      "height": 563,
      "view": {"stroke": "#000", "strokeWidth": 2},
      "data": {"name": "curves"},
      "mark": {"type": "line", "strokeWidth": 3.8, "strokeJoin": "round", "clip": true},
      "encoding": {
        "x": {
          "field": "t", "type": "quantitative",
          "scale": {"domain": [-5, 5], "nice": false, "zero": false},
          "axis": {"values": [-4, -2, 0, 2, 4], "labelExpr": "replace(format(datum.value, 'd'), '-', '−')", "labelFontSize": 37, "labelPadding": 4, "title": "time-delay deviation [days]", "titleFontSize": 41, "titlePadding": 8}
        },
        "y": {
          "field": "v", "type": "quantitative",
          "scale": {"domain": [-0.05, 1.05], "nice": false, "zero": false},
          "axis": {"values": [0, 0.2, 0.4, 0.6, 0.8, 1.0], "format": ".1f", "labelFontSize": 37, "labelPadding": 14, "title": "normalized distribution", "titleFontSize": 41, "titlePadding": 30}
        },
        "color": {"field": "s", "type": "nominal", "legend": null}
      }
    }
  ]
}
